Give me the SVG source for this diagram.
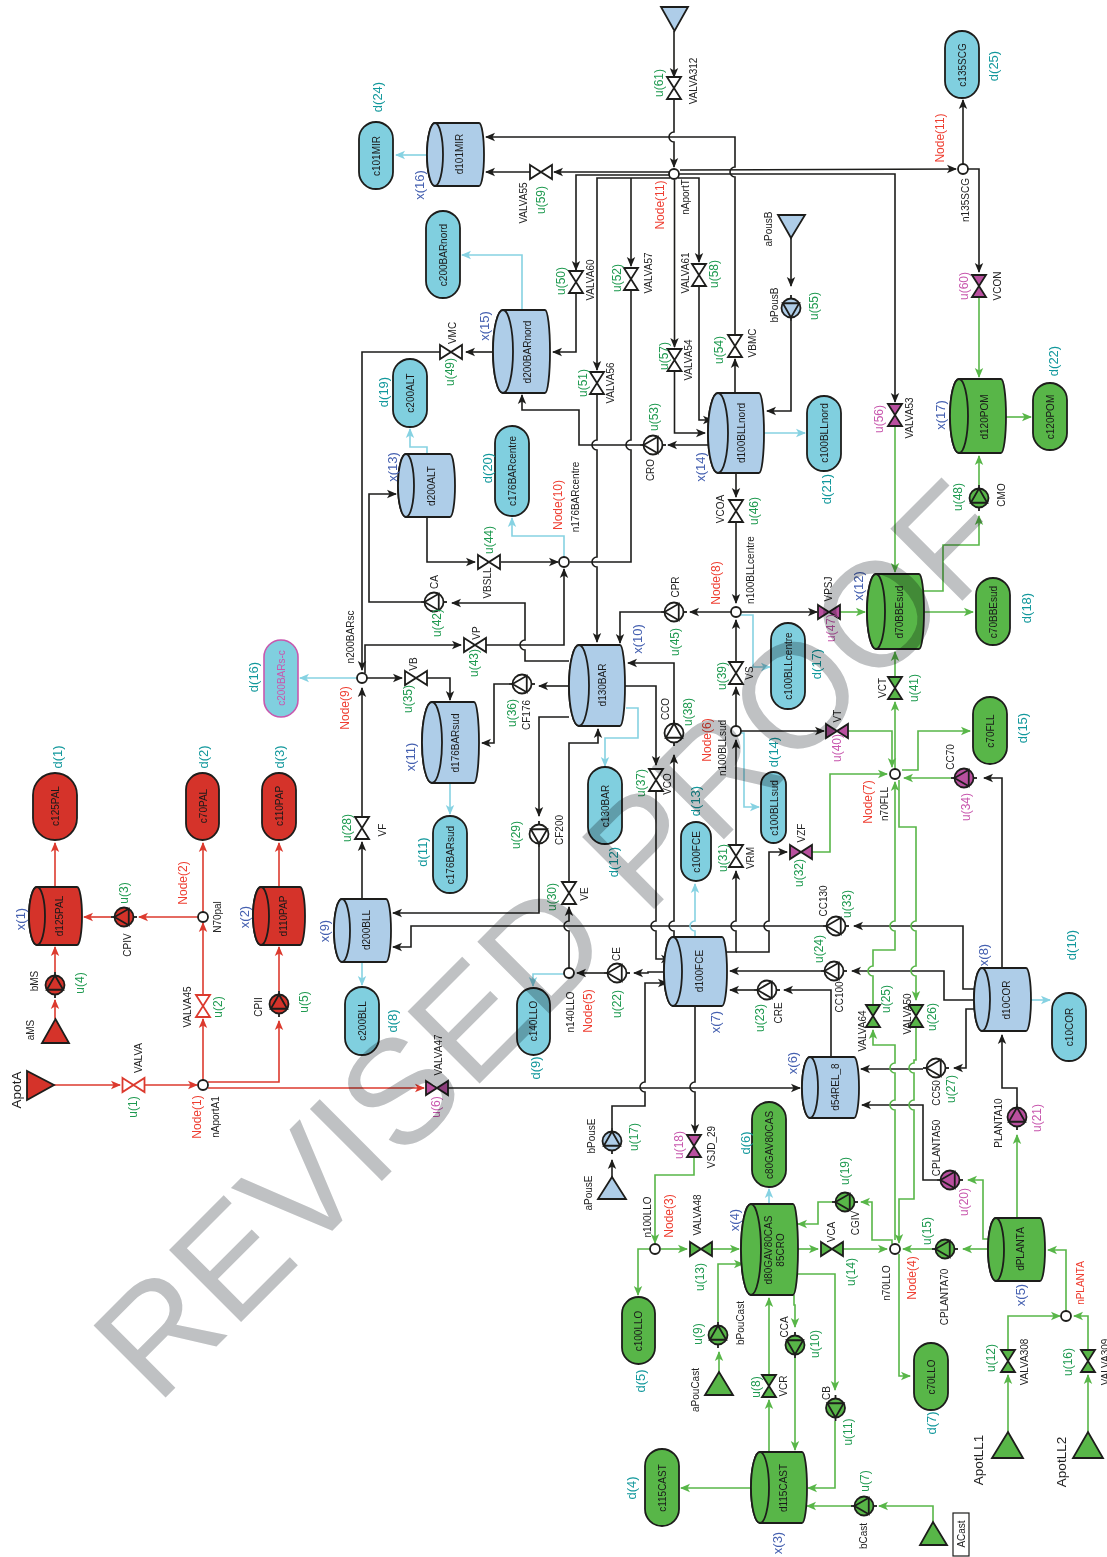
<svg xmlns="http://www.w3.org/2000/svg" width="1107" height="1557" viewBox="0 0 1107 1557">
<style>
text{font-family:"Liberation Sans",Arial,sans-serif;text-anchor:middle;dominant-baseline:central}
.n{font-size:10px;fill:#222}
.t{font-size:10px;fill:#1a1a1a}
.u{font-size:12px;fill:#1f9a50}
.p{font-size:12px;fill:#c858ae}
.x{font-size:13px;fill:#4560b0}
.d{font-size:13px;fill:#12989c}
.N{font-size:12px;fill:#ee3d30}
.B{font-size:13.5px;fill:#222}
#connectors path{fill:none;stroke-width:1.6}
.k,.ka{stroke:#1d1d1b}.g,.ga{stroke:#58b648}.r,.ra{stroke:#dc3a2e}.c,.ca{stroke:#86d2e2}
.ka{marker-end:url(#ak)}.ga{marker-end:url(#ag)}.ra{marker-end:url(#ar)}.ca{marker-end:url(#ac)}
.sh{stroke:#1d1d1b;stroke-width:1.8}
.R{fill:#d5332a}.G{fill:#58b648}.L{fill:#aecde8}.C{fill:#80cfdf}.P{fill:#b9509f}.W{fill:#fff}
.RW{fill:#fff;stroke:#dc3a2e;stroke-width:1.8}
#wm{font-size:148px;fill:#bfc1c3;mix-blend-mode:multiply;text-anchor:start;dominant-baseline:alphabetic}
</style>
<defs>
<marker id="ak" markerUnits="userSpaceOnUse" markerWidth="10" markerHeight="10" refX="9" refY="5" orient="auto"><path d="M10,5L0,.8L2.5,5L0,9.2Z" fill="#1d1d1b"/></marker>
<marker id="ag" markerUnits="userSpaceOnUse" markerWidth="10" markerHeight="10" refX="9" refY="5" orient="auto"><path d="M10,5L0,.8L2.5,5L0,9.2Z" fill="#58b648"/></marker>
<marker id="ar" markerUnits="userSpaceOnUse" markerWidth="10" markerHeight="10" refX="9" refY="5" orient="auto"><path d="M10,5L0,.8L2.5,5L0,9.2Z" fill="#dc3a2e"/></marker>
<marker id="ac" markerUnits="userSpaceOnUse" markerWidth="10" markerHeight="10" refX="9" refY="5" orient="auto"><path d="M10,5L0,.8L2.5,5L0,9.2Z" fill="#86d2e2"/></marker>
<path id="vh" d="M-11,-7L11,7V-7L-11,7Z"/>
<path id="vv" d="M-7,-11L7,11H-7L7,-11Z"/>
<g id="pmp"><path d="M0,-13V13" fill="none"/><circle r="9.5"/><path d="M0,-9.5L8.2,4.75H-8.2Z"/></g>
</defs>
<rect width="1107" height="1557" fill="#fff"/>
<g id="connectors">
<path class="ra" d="M54,1085H120"/><path class="ra" d="M145,1085H197"/><path class="ra" d="M203,1080V1019"/><path class="ra" d="M203,995V923"/><path class="ra" d="M203,912V843"/><path class="ra" d="M198,917H139"/><path class="ra" d="M111,917H84"/><path class="ra" d="M55,887V843"/><path class="ra" d="M55,1019V1000"/><path class="ra" d="M55,972V947"/><path class="ra" d="M208,1082H279V1021"/><path class="ra" d="M279,991V947"/><path class="ra" d="M279,887V843"/><path class="ra" d="M208,1088H424"/>
<path class="ka" d="M674,31V77"/><path class="ka" d="M674,99V132A5,5 0 0 0 674,142V167"/><path class="ka" d="M735,393V359"/><path class="ka" d="M735,336V177A5,5 0 0 1 735,167V137H486"/><path class="ka" d="M669,172H554"/><path class="ka" d="M530,172H486"/><path class="ka" d="M680,170L956,169"/><path class="ka" d="M670,175H576V270"/><path class="ka" d="M576,293V352H553"/><path class="ka" d="M678,174H895V402"/><path class="ka" d="M670,178H597V370"/><path class="ka" d="M631,178V266"/><path class="ka" d="M678,178H699V262"/><path class="ka" d="M674.5,180V347"/><path class="ka" d="M674.5,371V433H705"/><path class="ka" d="M699,286V420H712"/><path class="ka" d="M597,394V440A5,5 0 0 0 597,450V557A5,5 0 0 0 597,567V642"/><path class="k" d="M631,290V440A5,5 0 0 0 631,450V562H570"/><path class="ka" d="M708,445H668"/><path class="ka" d="M640,445H579V410H522V395"/><path class="ka" d="M736,473V497"/><path class="ka" d="M736,522V603"/><path class="ka" d="M731,612H690"/><path class="ka" d="M661,612H620V643"/><path class="ka" d="M741,612H817"/><path class="ka" d="M736,726V687"/><path class="ka" d="M736,663V620"/><path class="ka" d="M741,731H824"/><path class="ka" d="M727,952H736V931A5,5 0 0 1 736,921V871"/><path class="ka" d="M736,845V740"/><path class="ka" d="M736,952H769V931A5,5 0 0 1 769,921V852H787"/><path class="ka" d="M674,723V663H628"/><path class="ka" d="M674,937V931A5,5 0 0 1 674,921V755"/><path class="ka" d="M625,686H656V765"/><path class="ka" d="M656,791V921A5,5 0 0 0 656,931V959H670"/><path class="ka" d="M569,968V931A5,5 0 0 1 569,921V907"/><path class="ka" d="M569,882V743H598V729"/><path class="ka" d="M664,972H648V973H634"/><path class="ka" d="M604,973H577"/><path class="ka" d="M569,686H539"/><path class="ka" d="M509,684H494V743H482"/><path class="ka" d="M569,717H539V816"/><path class="ka" d="M539,847V913H393"/><path class="ka" d="M569,661H525V650A5,5 0 0 1 525,640V603H452"/><path class="ka" d="M421,602H369V494H396"/><path class="ka" d="M486,645H564V569"/><path class="ka" d="M365,673V645H461"/><path class="ka" d="M493,352H466"/><path class="ka" d="M440,352H362V670"/><path class="ka" d="M362,899V842"/><path class="ka" d="M362,817V688"/><path class="ka" d="M367,678H402"/><path class="ka" d="M427,678H450V700"/><path class="ka" d="M427,517V562H475"/><path class="ka" d="M501,562H558"/><path class="ka" d="M974,989H963V926H854"/><path class="ka" d="M823,926H411V947H393"/><path class="ka" d="M974,1000H944V971H852"/><path class="ka" d="M821,971H730"/><path class="ka" d="M831,1057V990H784"/><path class="ka" d="M754,990H730"/><path class="ka" d="M974,1009H966V1068H954"/><path class="ka" d="M923,1069H861"/><path class="ka" d="M1002,968V778H984"/><path class="ka" d="M1017,1104V1088H1002V1035"/><path class="ka" d="M937,1180H923V1105H862"/><path class="ka" d="M612,1177V1160"/><path class="ka" d="M612,1128V1106H645V1092A5,5 0 0 1 645,1082V983H667"/><path class="ka" d="M695,1006V1082A5,5 0 0 0 695,1092V1133"/><path class="ka" d="M448,1088H800"/><path class="ka" d="M791,238V286"/><path class="ka" d="M791,321V411H767"/><path class="ka" d="M963,164V100"/><path class="ka" d="M968,169H979V272"/>
<path class="ga" d="M979,297V377"/><path class="ga" d="M895,426V572"/><path class="ga" d="M840,612H865"/><path class="ga" d="M924,612H973"/><path class="ga" d="M923,591H943V545H979V516"/><path class="ga" d="M979,485V456"/><path class="ga" d="M1006,417H1031"/><path class="ga" d="M895,677V652"/><path class="ga" d="M895,769V702"/><path class="ga" d="M848,731H892V767"/><path class="ga" d="M812,852H830V774H887"/><path class="ga" d="M902,770H918V731H970"/><path class="ga" d="M951,778H904"/><path class="ga" d="M895,1240V1110A5,5 0 0 1 895,1100V1073A5,5 0 0 1 895,1063V1045H873V1030"/><path class="ga" d="M873,1006V976A5,5 0 0 1 873,966V950H895V931A5,5 0 0 1 895,921V782"/><path class="ga" d="M899,780V827H916V921A5,5 0 0 0 916,931V966A5,5 0 0 0 916,976V1000"/><path class="ga" d="M916,1027V1060H914V1063A5,5 0 0 0 914,1073V1100A5,5 0 0 0 914,1110V1199H899V1243"/><path class="ga" d="M932,1249H903"/><path class="ga" d="M989,1249H963"/><path class="ga" d="M798,1249H818"/><path class="ga" d="M843,1249H887"/><path class="ga" d="M892,1244V1240H872V1202H861"/><path class="ga" d="M832,1202H818V1224H798"/><path class="ga" d="M899,1254V1376H910"/><path class="ga" d="M1017,1218V1135"/><path class="ga" d="M988,1239H983V1180H968"/><path class="ga" d="M1066,1311V1250H1048"/><path class="ga" d="M1008,1350V1316H1060"/><path class="ga" d="M1088,1350V1316H1074"/><path class="ga" d="M1008,1432V1375"/><path class="ga" d="M1088,1432V1375"/><path class="ga" d="M694,1157V1175H655V1243"/><path class="ga" d="M651,1249H638V1295"/><path class="ga" d="M661,1249H687"/><path class="ga" d="M712,1249H739"/><path class="ga" d="M719,1372V1352"/><path class="ga" d="M718,1322V1264H743"/><path class="ga" d="M769,1452V1400"/><path class="ga" d="M769,1375V1298"/><path class="ga" d="M794,1295V1305H795V1327"/><path class="ga" d="M795,1358V1450"/><path class="ga" d="M797,1274H835V1390"/><path class="ga" d="M835,1421V1488H808"/><path class="ga" d="M751,1488H681"/><path class="ga" d="M933,1522V1506H879"/><path class="ga" d="M851,1506H807"/>
<path class="ca" d="M362,962V985"/><path class="ca" d="M450,783V814"/><path class="ca" d="M427,155H396"/><path class="ca" d="M522,310V255H462"/><path class="ca" d="M427,454V447H410V429"/><path class="ca" d="M564,557V536H512V518"/><path class="ca" d="M357,678H300"/><path class="ca" d="M626,708H638V738H605V766"/><path class="ca" d="M695,937V931A5,5 0 0 1 695,921V884"/><path class="ca" d="M564,974H533V986"/><path class="ca" d="M741,733H744V807H759"/><path class="ca" d="M740,615H753V667H770"/><path class="ca" d="M764,433H805"/><path class="ca" d="M1031,1000H1050"/><path class="ca" d="M769,1204V1189"/>
</g>
<g id="ApotA"><path class="sh R" d="M27,1071V1100L54,1085Z"/><text class="B" transform="translate(16 1090) rotate(-90)">ApotA</text></g>
<g id="aMS"><path class="sh R" d="M42,1043H69L55.500,1019Z"/><text class="n" transform="translate(30 1030) rotate(-90)">aMS</text></g>
<g id="bMS"><use href="#pmp" class="sh R" transform="translate(55 985)"/><text class="n" transform="translate(34 981) rotate(-90)">bMS</text><text class="u" transform="translate(80 983) rotate(-90)">u(4)</text></g>
<g id="d125PAL"><path class="sh R" d="M37,887H77A5,29 0 0 1 77,945H37A8,29 0 0 1 37,887Z"/><ellipse class="sh R" cx="37" cy="916" rx="8" ry="29"/><text class="t" transform="translate(59 916) rotate(-90)">d125PAL</text><text class="x" transform="translate(20 919) rotate(-90)">x(1)</text></g>
<g id="c125PAL"><rect class="sh R" x="33" y="773" width="44" height="67" rx="22"/><text class="t" transform="translate(55 806) rotate(-90)">c125PAL</text><text class="d" transform="translate(57 757) rotate(-90)">d(1)</text></g>
<g id="CPIV"><use href="#pmp" class="sh R" transform="translate(124 917) rotate(-90)"/><text class="n" transform="translate(127 945) rotate(-90)">CPIV</text><text class="u" transform="translate(124 893) rotate(-90)">u(3)</text></g>
<g id="N70pal"><circle class="sh W" cx="203" cy="917" r="5"/><text class="n" transform="translate(217 917) rotate(-90)">N70pal</text><text class="N" transform="translate(183 883) rotate(-90)">Node(2)</text></g>
<g id="c70PAL"><rect class="sh R" x="186" y="773" width="33" height="67" rx="16.500"/><text class="t" transform="translate(203 806) rotate(-90)">c70PAL</text><text class="d" transform="translate(203 757) rotate(-90)">d(2)</text></g>
<g id="VALVA"><use href="#vh" class="RW" x="133.500" y="1085"/><text class="n" transform="translate(138 1058) rotate(-90)">VALVA</text><text class="u" transform="translate(133 1107) rotate(-90)">u(1)</text></g>
<g id="nAportA1"><circle class="sh W" cx="203" cy="1085" r="5"/><text class="n" transform="translate(215 1117) rotate(-90)">nAportA1</text><text class="N" transform="translate(197 1117) rotate(-90)">Node(1)</text></g>
<g id="VALVA45"><use href="#vv" class="RW" x="203" y="1006"/><text class="n" transform="translate(187 1007) rotate(-90)">VALVA45</text><text class="u" transform="translate(218 1007) rotate(-90)">u(2)</text></g>
<g id="CPII"><use href="#pmp" class="sh R" transform="translate(279 1004)"/><text class="n" transform="translate(258 1007) rotate(-90)">CPII</text><text class="u" transform="translate(304 1002) rotate(-90)">u(5)</text></g>
<g id="d110PAP"><path class="sh R" d="M261,887H300A5,29 0 0 1 300,945H261A8,29 0 0 1 261,887Z"/><ellipse class="sh R" cx="261" cy="916" rx="8" ry="29"/><text class="t" transform="translate(283 916) rotate(-90)">d110PAP</text><text class="x" transform="translate(244 917) rotate(-90)">x(2)</text></g>
<g id="c110PAP"><rect class="sh R" x="262" y="773" width="34" height="67" rx="17"/><text class="t" transform="translate(279 806) rotate(-90)">c110PAP</text><text class="d" transform="translate(279 757) rotate(-90)">d(3)</text></g>
<g id="d200BLL"><path class="sh L" d="M342,899H386A5,31.500 0 0 1 386,962H342A8,31.500 0 0 1 342,899Z"/><ellipse class="sh L" cx="342" cy="930.500" rx="8" ry="31.500"/><text class="t" transform="translate(366 930) rotate(-90)">d200BLL</text><text class="x" transform="translate(324 931) rotate(-90)">x(9)</text></g>
<g id="c200BLL"><rect class="sh C" x="345" y="987" width="34" height="68" rx="17"/><text class="t" transform="translate(362 1021) rotate(-90)">c200BLL</text><text class="d" transform="translate(392 1021) rotate(-90)">d(8)</text></g>
<g id="VF"><use href="#vv" class="sh W" x="362" y="828"/><text class="n" transform="translate(382 830) rotate(-90)">VF</text><text class="u" transform="translate(347 828) rotate(-90)">u(28)</text></g>
<g id="n200BARsc"><circle class="sh W" cx="362" cy="678" r="5"/><text class="n" transform="translate(350 637) rotate(-90)">n200BARsc</text><text class="N" transform="translate(345 708) rotate(-90)">Node(9)</text></g>
<g id="c200BARs-c"><rect x="264" y="640" width="34" height="77" rx="17" fill="#80cfdf" stroke="#c858ae" stroke-width="1.600"/><text style="font-size:10px;fill:#c858ae" transform="translate(281 678) rotate(-90)">c200BARs-c</text><text class="d" transform="translate(253 677) rotate(-90)">d(16)</text></g>
<g id="VB"><use href="#vh" class="sh W" x="416" y="678"/><text class="n" transform="translate(413 664) rotate(-90)">VB</text><text class="u" transform="translate(408 699) rotate(-90)">u(35)</text></g>
<g id="d176BARsud"><path class="sh L" d="M432,702H474A5,40.500 0 0 1 474,783H432A10,40.500 0 0 1 432,702Z"/><ellipse class="sh L" cx="432" cy="742.500" rx="10" ry="40.500"/><text class="t" transform="translate(455 743) rotate(-90)">d176BARsud</text><text class="x" transform="translate(410 757) rotate(-90)">x(11)</text></g>
<g id="c176BARsud"><rect class="sh C" x="433" y="816" width="34" height="77" rx="17"/><text class="t" transform="translate(450 855) rotate(-90)">c176BARsud</text><text class="d" transform="translate(422 852) rotate(-90)">d(11)</text></g>
<g id="VP"><use href="#vh" class="sh W" x="475" y="645"/><text class="n" transform="translate(476 633) rotate(-90)">VP</text><text class="u" transform="translate(474 663) rotate(-90)">u(43)</text></g>
<g id="CA"><use href="#pmp" class="sh W" transform="translate(434 602) rotate(-90)"/><text class="n" transform="translate(434 582) rotate(-90)">CA</text><text class="u" transform="translate(437 623) rotate(-90)">u(42)</text></g>
<g id="VBSLL"><use href="#vh" class="sh W" x="489" y="562"/><text class="n" transform="translate(487 583) rotate(-90)">VBSLL</text><text class="u" transform="translate(489 540) rotate(-90)">u(44)</text></g>
<g id="CF176"><use href="#pmp" class="sh W" transform="translate(522 684) rotate(-90)"/><text class="n" transform="translate(526 715) rotate(-90)">CF176</text><text class="u" transform="translate(512 713) rotate(-90)">u(36)</text></g>
<g id="CF200"><use href="#pmp" class="sh W" transform="translate(539 834) rotate(180)"/><text class="n" transform="translate(559 830) rotate(-90)">CF200</text><text class="u" transform="translate(516 835) rotate(-90)">u(29)</text></g>
<g id="d200ALT"><path class="sh L" d="M406,454H450A5,31.500 0 0 1 450,517H406A8,31.500 0 0 1 406,454Z"/><ellipse class="sh L" cx="406" cy="485.500" rx="8" ry="31.500"/><text class="t" transform="translate(431 486) rotate(-90)">d200ALT</text><text class="x" transform="translate(392 467) rotate(-90)">x(13)</text></g>
<g id="c200ALT"><rect class="sh C" x="393" y="359" width="34" height="68" rx="17"/><text class="t" transform="translate(410 393) rotate(-90)">c200ALT</text><text class="d" transform="translate(383 392) rotate(-90)">d(19)</text></g>
<g id="VMC"><use href="#vh" class="sh W" x="451" y="352"/><text class="n" transform="translate(452 333) rotate(-90)">VMC</text><text class="u" transform="translate(450 372) rotate(-90)">u(49)</text></g>
<g id="d200BARnord"><path class="sh L" d="M503,310H545A5,41.500 0 0 1 545,393H503A10,41.500 0 0 1 503,310Z"/><ellipse class="sh L" cx="503" cy="351.500" rx="10" ry="41.500"/><text class="t" transform="translate(527 352) rotate(-90)">d200BARnord</text><text class="x" transform="translate(484 326) rotate(-90)">x(15)</text></g>
<g id="c200BARnord"><rect class="sh C" x="426" y="211" width="34" height="87" rx="17"/><text class="t" transform="translate(443 255) rotate(-90)">c200BARnord</text></g>
<g id="d101MIR"><path class="sh L" d="M435,123H479A5,31.500 0 0 1 479,186H435A8,31.500 0 0 1 435,123Z"/><ellipse class="sh L" cx="435" cy="154.500" rx="8" ry="31.500"/><text class="t" transform="translate(459 154) rotate(-90)">d101MIR</text><text class="x" transform="translate(419 185) rotate(-90)">x(16)</text></g>
<g id="c101MIR"><rect class="sh C" x="359" y="122" width="34" height="67" rx="17"/><text class="t" transform="translate(376 156) rotate(-90)">c101MIR</text><text class="d" transform="translate(377 97) rotate(-90)">d(24)</text></g>
<g id="VALVA55"><use href="#vh" class="sh W" x="541" y="172"/><text class="n" transform="translate(523 203) rotate(-90)">VALVA55</text><text class="u" transform="translate(541 200) rotate(-90)">u(59)</text></g>
<g id="VALVA60"><use href="#vv" class="sh W" x="576" y="282"/><text class="n" transform="translate(590 280) rotate(-90)">VALVA60</text><text class="u" transform="translate(561 281) rotate(-90)">u(50)</text></g>
<g id="VALVA56"><use href="#vv" class="sh W" x="597" y="383"/><text class="n" transform="translate(610 383) rotate(-90)">VALVA56</text><text class="u" transform="translate(583 383) rotate(-90)">u(51)</text></g>
<g id="VALVA57"><use href="#vv" class="sh W" x="631" y="279"/><text class="n" transform="translate(648 273) rotate(-90)">VALVA57</text><text class="u" transform="translate(617 278) rotate(-90)">u(52)</text></g>
<g id="sourceT"><path class="sh L" d="M661,7H688L674.500,31Z"/></g>
<g id="VALVA312"><use href="#vv" class="sh W" x="674" y="88"/><text class="n" transform="translate(693 81) rotate(-90)">VALVA312</text><text class="u" transform="translate(659 83) rotate(-90)">u(61)</text></g>
<g id="nAportT"><circle class="sh W" cx="674" cy="174" r="5"/><text class="n" transform="translate(685 197) rotate(-90)">nAportT</text><text class="N" transform="translate(660 205) rotate(-90)">Node(11)</text></g>
<g id="VALVA54"><use href="#vv" class="sh W" x="674.500" y="360"/><text class="n" transform="translate(688 360) rotate(-90)">VALVA54</text><text class="u" transform="translate(664 356) rotate(-90)">u(57)</text></g>
<g id="VALVA61"><use href="#vv" class="sh W" x="699" y="275"/><text class="n" transform="translate(685 273) rotate(-90)">VALVA61</text><text class="u" transform="translate(714 274) rotate(-90)">u(58)</text></g>
<g id="VBMC"><use href="#vv" class="sh W" x="735" y="346"/><text class="n" transform="translate(752 343) rotate(-90)">VBMC</text><text class="u" transform="translate(719 350) rotate(-90)">u(54)</text></g>
<g id="aPousB"><path class="sh L" d="M778,215H805L791,238Z"/><text class="n" transform="translate(768 229) rotate(-90)">aPousB</text></g>
<g id="bPousB"><use href="#pmp" class="sh L" transform="translate(791 308) rotate(180)"/><text class="n" transform="translate(774 305) rotate(-90)">bPousB</text><text class="u" transform="translate(814 306) rotate(-90)">u(55)</text></g>
<g id="n135SCG"><circle class="sh W" cx="963" cy="169" r="5"/><text class="n" transform="translate(965 200) rotate(-90)">n135SCG</text><text class="N" transform="translate(940 138) rotate(-90)">Node(11)</text></g>
<g id="c135SCG"><rect class="sh C" x="945" y="31" width="34" height="67" rx="17"/><text class="t" transform="translate(962 65) rotate(-90)">c135SCG</text><text class="d" transform="translate(993 66) rotate(-90)">d(25)</text></g>
<g id="VCON"><use href="#vv" class="sh P" x="979" y="286"/><text class="n" transform="translate(997 286) rotate(-90)">VCON</text><text class="p" transform="translate(964 286) rotate(-90)">u(60)</text></g>
<g id="d120POM"><path class="sh G" d="M959,379H1001A5,37 0 0 1 1001,453H959A9,37 0 0 1 959,379Z"/><ellipse class="sh G" cx="959" cy="416" rx="9" ry="37"/><text class="t" transform="translate(984 417) rotate(-90)">d120POM</text><text class="x" transform="translate(940 415) rotate(-90)">x(17)</text></g>
<g id="c120POM"><rect class="sh G" x="1033" y="383" width="34" height="67" rx="17"/><text class="t" transform="translate(1050 417) rotate(-90)">c120POM</text><text class="d" transform="translate(1053 361) rotate(-90)">d(22)</text></g>
<g id="CMO"><use href="#pmp" class="sh G" transform="translate(979 498)"/><text class="n" transform="translate(1001 495) rotate(-90)">CMO</text><text class="u" transform="translate(958 497) rotate(-90)">u(48)</text></g>
<g id="VALVA53"><use href="#vv" class="sh P" x="895" y="415"/><text class="n" transform="translate(909 418) rotate(-90)">VALVA53</text><text class="p" transform="translate(879 419) rotate(-90)">u(56)</text></g>
<g id="d70BBEsud"><path class="sh G" d="M876,574H919A5,37.500 0 0 1 919,649H876A9,37.500 0 0 1 876,574Z"/><ellipse class="sh G" cx="876" cy="611.500" rx="9" ry="37.500"/><text class="t" transform="translate(899 612) rotate(-90)">d70BBEsud</text><text class="x" transform="translate(858 586) rotate(-90)">x(12)</text></g>
<g id="c70BBEsud"><rect class="sh G" x="976" y="578" width="34" height="67" rx="17"/><text class="t" transform="translate(993 612) rotate(-90)">c70BBEsud</text><text class="d" transform="translate(1026 608) rotate(-90)">d(18)</text></g>
<g id="VPSJ"><use href="#vh" class="sh P" x="829" y="612"/><text class="n" transform="translate(828 589) rotate(-90)">VPSJ</text><text class="p" transform="translate(831 628) rotate(-90)">u(47)</text></g>
<g id="d100BLLnord"><path class="sh L" d="M718,393H759A5,40 0 0 1 759,473H718A10,40 0 0 1 718,393Z"/><ellipse class="sh L" cx="718" cy="433" rx="10" ry="40"/><text class="t" transform="translate(741 433) rotate(-90)">d100BLLnord</text><text class="x" transform="translate(700 467) rotate(-90)">x(14)</text></g>
<g id="c100BLLnord"><rect class="sh C" x="807" y="396" width="34" height="75" rx="17"/><text class="t" transform="translate(824 433) rotate(-90)">c100BLLnord</text><text class="d" transform="translate(826 489) rotate(-90)">d(21)</text></g>
<g id="CRO"><use href="#pmp" class="sh W" transform="translate(653 445) rotate(-90)"/><text class="n" transform="translate(650 470) rotate(-90)">CRO</text><text class="u" transform="translate(654 417) rotate(-90)">u(53)</text></g>
<g id="VCOA"><use href="#vv" class="sh W" x="736" y="511"/><text class="n" transform="translate(720 509) rotate(-90)">VCOA</text><text class="u" transform="translate(754 511) rotate(-90)">u(46)</text></g>
<g id="n100BLLcentre"><circle class="sh W" cx="736" cy="612" r="5"/><text class="n" transform="translate(750 570) rotate(-90)">n100BLLcentre</text><text class="N" transform="translate(716 583) rotate(-90)">Node(8)</text></g>
<g id="CPR"><use href="#pmp" class="sh W" transform="translate(674 612) rotate(-90)"/><text class="n" transform="translate(675 587) rotate(-90)">CPR</text><text class="u" transform="translate(675 642) rotate(-90)">u(45)</text></g>
<g id="n176BARcentre"><circle class="sh W" cx="564" cy="562" r="5"/><text class="n" transform="translate(575 497) rotate(-90)">n176BARcentre</text><text class="N" transform="translate(558 505) rotate(-90)">Node(10)</text></g>
<g id="c176BARcentre"><rect class="sh C" x="495" y="426" width="34" height="90" rx="17"/><text class="t" transform="translate(512 471) rotate(-90)">c176BARcentre</text><text class="d" transform="translate(487 468) rotate(-90)">d(20)</text></g>
<g id="d130BAR"><path class="sh L" d="M579,645H620A5,40.500 0 0 1 620,726H579A10,40.500 0 0 1 579,645Z"/><ellipse class="sh L" cx="579" cy="685.500" rx="10" ry="40.500"/><text class="t" transform="translate(602 685) rotate(-90)">d130BAR</text><text class="x" transform="translate(637 639) rotate(-90)">x(10)</text></g>
<g id="c130BAR"><rect class="sh C" x="588" y="767" width="34" height="77" rx="17"/><text class="t" transform="translate(605 806) rotate(-90)">c130BAR</text><text class="d" transform="translate(613 862) rotate(-90)">d(12)</text></g>
<g id="CCO"><use href="#pmp" class="sh W" transform="translate(674 733)"/><text class="n" transform="translate(665 709) rotate(-90)">CCO</text><text class="u" transform="translate(688 712) rotate(-90)">u(38)</text></g>
<g id="VCO"><use href="#vv" class="sh W" x="656" y="780"/><text class="n" transform="translate(667 784) rotate(-90)">VCO</text><text class="u" transform="translate(641 783) rotate(-90)">u(37)</text></g>
<g id="VS"><use href="#vv" class="sh W" x="736" y="673"/><text class="n" transform="translate(749 673) rotate(-90)">VS</text><text class="u" transform="translate(722 676) rotate(-90)">u(39)</text></g>
<g id="c100BLLcentre"><rect class="sh C" x="771" y="623" width="34" height="86" rx="17"/><text class="t" transform="translate(788 666) rotate(-90)">c100BLLcentre</text><text class="d" transform="translate(816 664) rotate(-90)">d(17)</text></g>
<g id="n100BLLsud"><circle class="sh W" cx="736" cy="731" r="5"/><text class="n" transform="translate(722 748) rotate(-90)">n100BLLsud</text><text class="N" transform="translate(707 740) rotate(-90)">Node(6)</text></g>
<g id="VT"><use href="#vh" class="sh P" x="837" y="731"/><text class="n" transform="translate(837 716) rotate(-90)">VT</text><text class="p" transform="translate(837 748) rotate(-90)">u(40)</text></g>
<g id="c100BLLsud"><rect class="sh C" x="761" y="772" width="25" height="71" rx="12.500"/><text class="t" transform="translate(774 808) rotate(-90)">c100BLLsud</text><text class="d" transform="translate(773 752) rotate(-90)">d(14)</text></g>
<g id="VCT"><use href="#vv" class="sh G" x="895" y="688"/><text class="n" transform="translate(882 688) rotate(-90)">VCT</text><text class="u" transform="translate(914 688) rotate(-90)">u(41)</text></g>
<g id="c70FLL"><rect class="sh G" x="973" y="697" width="34" height="67" rx="17"/><text class="t" transform="translate(990 731) rotate(-90)">c70FLL</text><text class="d" transform="translate(1022 728) rotate(-90)">d(15)</text></g>
<g id="n70FLL"><circle class="sh W" cx="895" cy="774" r="5"/><text class="n" transform="translate(884 804) rotate(-90)">n70FLL</text><text class="N" transform="translate(868 802) rotate(-90)">Node(7)</text></g>
<g id="CC70"><use href="#pmp" class="sh P" transform="translate(964 778) rotate(-90)"/><text class="n" transform="translate(950 757) rotate(-90)">CC70</text><text class="p" transform="translate(966 807) rotate(-90)">u(34)</text></g>
<g id="c100FCE"><rect class="sh C" x="681" y="822" width="30" height="59" rx="15"/><text class="t" transform="translate(696 852) rotate(-90)">c100FCE</text><text class="d" transform="translate(695 801) rotate(-90)">d(13)</text></g>
<g id="VRM"><use href="#vv" class="sh W" x="736" y="856"/><text class="n" transform="translate(750 858) rotate(-90)">VRM</text><text class="u" transform="translate(723 858) rotate(-90)">u(31)</text></g>
<g id="VZF"><use href="#vh" class="sh P" x="801" y="852"/><text class="n" transform="translate(801 833) rotate(-90)">VZF</text><text class="u" transform="translate(799 873) rotate(-90)">u(32)</text></g>
<g id="VE"><use href="#vv" class="sh W" x="569" y="893"/><text class="n" transform="translate(584 894) rotate(-90)">VE</text><text class="u" transform="translate(552 897) rotate(-90)">u(30)</text></g>
<g id="CC130"><use href="#pmp" class="sh W" transform="translate(836 926) rotate(-90)"/><text class="n" transform="translate(823 901) rotate(-90)">CC130</text><text class="u" transform="translate(847 904) rotate(-90)">u(33)</text></g>
<g id="CC100"><use href="#pmp" class="sh W" transform="translate(834 971) rotate(-90)"/><text class="n" transform="translate(839 997) rotate(-90)">CC100</text><text class="u" transform="translate(819 949) rotate(-90)">u(24)</text></g>
<g id="CRE"><use href="#pmp" class="sh W" transform="translate(767 990) rotate(-90)"/><text class="n" transform="translate(778 1013) rotate(-90)">CRE</text><text class="u" transform="translate(760 1018) rotate(-90)">u(23)</text></g>
<g id="d100FCE"><path class="sh L" d="M673,937H722A5,34.500 0 0 1 722,1006H673A9,34.500 0 0 1 673,937Z"/><ellipse class="sh L" cx="673" cy="971.500" rx="9" ry="34.500"/><text class="t" transform="translate(699 971) rotate(-90)">d100FCE</text><text class="x" transform="translate(715 1022) rotate(-90)">x(7)</text></g>
<g id="CE"><use href="#pmp" class="sh W" transform="translate(617 973) rotate(-90)"/><text class="n" transform="translate(616 954) rotate(-90)">CE</text><text class="u" transform="translate(617 1004) rotate(-90)">u(22)</text></g>
<g id="n140LLO"><circle class="sh W" cx="569" cy="973" r="5"/><text class="n" transform="translate(570 1012) rotate(-90)">n140LLO</text><text class="N" transform="translate(588 1011) rotate(-90)">Node(5)</text></g>
<g id="c140LLO"><rect class="sh C" x="517" y="988" width="33" height="67" rx="16.500"/><text class="t" transform="translate(533 1021) rotate(-90)">c140LLO</text><text class="d" transform="translate(535 1068) rotate(-90)">d(9)</text></g>
<g id="VALVA47"><use href="#vh" class="sh P" x="437" y="1088"/><text class="n" transform="translate(438 1055) rotate(-90)">VALVA47</text><text class="p" transform="translate(436 1107) rotate(-90)">u(6)</text></g>
<g id="d10COR"><path class="sh L" d="M982,968H1026A5,31.500 0 0 1 1026,1031H982A8,31.500 0 0 1 982,968Z"/><ellipse class="sh L" cx="982" cy="999.500" rx="8" ry="31.500"/><text class="t" transform="translate(1006 1000) rotate(-90)">d10COR</text><text class="x" transform="translate(983 955) rotate(-90)">x(8)</text></g>
<g id="c10COR"><rect class="sh C" x="1052" y="993" width="34" height="68" rx="17"/><text class="t" transform="translate(1069 1027) rotate(-90)">c10COR</text><text class="d" transform="translate(1071 945) rotate(-90)">d(10)</text></g>
<g id="VALVA64"><use href="#vv" class="sh G" x="873" y="1016"/><text class="n" transform="translate(862 1031) rotate(-90)">VALVA64</text><text class="u" transform="translate(886 999) rotate(-90)">u(25)</text></g>
<g id="VALVA50"><use href="#vv" class="sh G" x="916" y="1016"/><text class="n" transform="translate(907 1014) rotate(-90)">VALVA50</text><text class="u" transform="translate(932 1017) rotate(-90)">u(26)</text></g>
<g id="CC50"><use href="#pmp" class="sh W" transform="translate(936 1068) rotate(-90)"/><text class="n" transform="translate(936 1093) rotate(-90)">CC50</text><text class="u" transform="translate(951 1089) rotate(-90)">u(27)</text></g>
<g id="d54REL_8"><path class="sh L" d="M810,1057H854A5,30.500 0 0 1 854,1118H810A8,30.500 0 0 1 810,1057Z"/><ellipse class="sh L" cx="810" cy="1087.500" rx="8" ry="30.500"/><text class="t" transform="translate(835 1087) rotate(-90)">d54REL_8</text><text class="x" transform="translate(792 1063) rotate(-90)">x(6)</text></g>
<g id="PLANTA10"><use href="#pmp" class="sh P" transform="translate(1017 1117)"/><text class="n" transform="translate(998 1123) rotate(-90)">PLANTA10</text><text class="p" transform="translate(1037 1118) rotate(-90)">u(21)</text></g>
<g id="CPLANTA50"><use href="#pmp" class="sh P" transform="translate(950 1180) rotate(-90)"/><text class="n" transform="translate(936 1148) rotate(-90)">CPLANTA50</text><text class="p" transform="translate(964 1202) rotate(-90)">u(20)</text></g>
<g id="aPousE"><path class="sh L" d="M598,1199H626L612,1177Z"/><text class="n" transform="translate(588 1193) rotate(-90)">aPousE</text></g>
<g id="bPousE"><use href="#pmp" class="sh L" transform="translate(612 1141)"/><text class="n" transform="translate(591 1136) rotate(-90)">bPousE</text><text class="u" transform="translate(634 1137) rotate(-90)">u(17)</text></g>
<g id="VSJD_29"><use href="#vv" class="sh P" x="694" y="1146"/><text class="n" transform="translate(711 1147) rotate(-90)">VSJD_29</text><text class="p" transform="translate(679 1145) rotate(-90)">u(18)</text></g>
<g id="c80GAV80CAS"><rect class="sh G" x="752" y="1102" width="34" height="85" rx="17"/><text class="t" transform="translate(769 1145) rotate(-90)">c80GAV80CAS</text><text class="d" transform="translate(745 1143) rotate(-90)">d(6)</text></g>
<g id="n100LLO"><circle class="sh W" cx="655" cy="1249" r="5"/><text class="n" transform="translate(647 1217) rotate(-90)">n100LLO</text><text class="N" transform="translate(669 1216) rotate(-90)">Node(3)</text></g>
<g id="c100LLO"><rect class="sh G" x="622" y="1297" width="33" height="67" rx="16.500"/><text class="t" transform="translate(638 1331) rotate(-90)">c100LLO</text><text class="d" transform="translate(640 1381) rotate(-90)">d(5)</text></g>
<g id="VALVA48"><use href="#vh" class="sh G" x="701" y="1249"/><text class="n" transform="translate(697 1215) rotate(-90)">VALVA48</text><text class="u" transform="translate(700 1277) rotate(-90)">u(13)</text></g>
<g id="d80GAV80CAS85CRO"><path class="sh G" d="M751,1204H793A5,45.500 0 0 1 793,1295H751A10,45.500 0 0 1 751,1204Z"/><ellipse class="sh G" cx="751" cy="1249.500" rx="10" ry="45.500"/><text class="t" transform="translate(768 1250) rotate(-90)">d80GAV80CAS</text><text class="t" transform="translate(780 1250) rotate(-90)">85CRO</text><text class="x" transform="translate(734 1220) rotate(-90)">x(4)</text></g>
<g id="VCA"><use href="#vh" class="sh G" x="832" y="1249"/><text class="n" transform="translate(831 1232) rotate(-90)">VCA</text><text class="u" transform="translate(851 1272) rotate(-90)">u(14)</text></g>
<g id="CGIV"><use href="#pmp" class="sh G" transform="translate(845 1202) rotate(-90)"/><text class="n" transform="translate(855 1223) rotate(-90)">CGIV</text><text class="u" transform="translate(845 1171) rotate(-90)">u(19)</text></g>
<g id="n70LLO"><circle class="sh W" cx="895" cy="1249" r="5"/><text class="n" transform="translate(886 1283) rotate(-90)">n70LLO</text><text class="N" transform="translate(912 1278) rotate(-90)">Node(4)</text></g>
<g id="CPLANTA70"><use href="#pmp" class="sh G" transform="translate(945 1249) rotate(-90)"/><text class="n" transform="translate(944 1297) rotate(-90)">CPLANTA70</text><text class="u" transform="translate(927 1231) rotate(-90)">u(15)</text></g>
<g id="dPLANTA"><path class="sh G" d="M996,1218H1040A5,31.500 0 0 1 1040,1281H996A8,31.500 0 0 1 996,1218Z"/><ellipse class="sh G" cx="996" cy="1249.500" rx="8" ry="31.500"/><text class="t" transform="translate(1020 1249) rotate(-90)">dPLANTA</text><text class="x" transform="translate(1020 1295) rotate(-90)">x(5)</text></g>
<g id="nPLANTA"><circle class="sh W" cx="1066" cy="1316" r="5"/><text class="N" style="font-size:10px" transform="translate(1080 1283) rotate(-90)">nPLANTA</text></g>
<g id="VALVA308"><use href="#vv" class="sh G" x="1008" y="1361"/><text class="n" transform="translate(1024 1362) rotate(-90)">VALVA308</text><text class="u" transform="translate(991 1358) rotate(-90)">u(12)</text></g>
<g id="VALVA309"><use href="#vv" class="sh G" x="1088" y="1361"/><text class="n" transform="translate(1105 1362) rotate(-90)">VALVA309</text><text class="u" transform="translate(1068 1362) rotate(-90)">u(16)</text></g>
<g id="ApotLL1"><path class="sh G" d="M992,1458H1023L1008,1432Z"/><text class="B" transform="translate(978 1460) rotate(-90)">ApotLL1</text></g>
<g id="ApotLL2"><path class="sh G" d="M1073,1458H1103L1088,1432Z"/><text class="B" transform="translate(1061 1462) rotate(-90)">ApotLL2</text></g>
<g id="c70LLO"><rect class="sh G" x="914" y="1343" width="34" height="67" rx="17"/><text class="t" transform="translate(931 1377) rotate(-90)">c70LLO</text><text class="d" transform="translate(931 1423) rotate(-90)">d(7)</text></g>
<g id="bPouCast"><use href="#pmp" class="sh G" transform="translate(718 1335)"/><text class="n" transform="translate(740 1323) rotate(-90)">bPouCast</text><text class="u" transform="translate(698 1334) rotate(-90)">u(9)</text></g>
<g id="aPouCast"><path class="sh G" d="M705,1395H733L719,1372Z"/><text class="n" transform="translate(695 1390) rotate(-90)">aPouCast</text></g>
<g id="CCA"><use href="#pmp" class="sh G" transform="translate(795 1345) rotate(180)"/><text class="n" transform="translate(784 1327) rotate(-90)">CCA</text><text class="u" transform="translate(815 1344) rotate(-90)">u(10)</text></g>
<g id="VCR"><use href="#vv" class="sh G" x="769" y="1386"/><text class="n" transform="translate(783 1386) rotate(-90)">VCR</text><text class="u" transform="translate(756 1387) rotate(-90)">u(8)</text></g>
<g id="CB"><use href="#pmp" class="sh G" transform="translate(835.500 1408) rotate(180)"/><text class="n" transform="translate(826 1393) rotate(-90)">CB</text><text class="u" transform="translate(848 1432) rotate(-90)">u(11)</text></g>
<g id="d115CAST"><path class="sh G" d="M760,1452H802A5,35.500 0 0 1 802,1523H760A9,35.500 0 0 1 760,1452Z"/><ellipse class="sh G" cx="760" cy="1487.500" rx="9" ry="35.500"/><text class="t" transform="translate(783 1488) rotate(-90)">d115CAST</text><text class="x" transform="translate(777 1543) rotate(-90)">x(3)</text></g>
<g id="c115CAST"><rect class="sh G" x="645" y="1449" width="34" height="77" rx="17"/><text class="t" transform="translate(662 1488) rotate(-90)">c115CAST</text><text class="d" transform="translate(631 1488) rotate(-90)">d(4)</text></g>
<g id="bCast"><use href="#pmp" class="sh G" transform="translate(864 1506) rotate(-90)"/><text class="n" transform="translate(863 1536) rotate(-90)">bCast</text><text class="u" transform="translate(865 1481) rotate(-90)">u(7)</text></g>
<g id="ACast"><path class="sh G" d="M920,1545H947L933,1522Z"/><rect x="953" y="1513" width="16" height="43" fill="#fff" stroke="#1d1d1b" stroke-width="1.200"/><text class="n" transform="translate(961 1534) rotate(-90)">ACast</text></g>
<text id="wm" transform="translate(157 1406) rotate(-45)">REVISED PROOF</text>
</svg>
